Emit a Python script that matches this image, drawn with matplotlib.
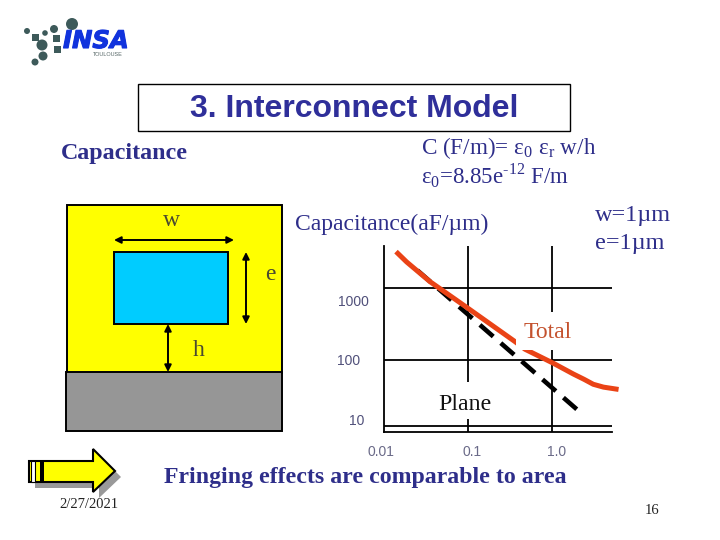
import numpy as np
import matplotlib
matplotlib.use("Agg")
import matplotlib.pyplot as plt
from matplotlib.patches import Rectangle, Polygon, Circle, FancyArrowPatch
import matplotlib.patheffects as pe

plt.rcParams['font.family'] = ['Liberation Serif', 'DejaVu Sans']
plt.rcParams['mathtext.fontset'] = 'custom'
plt.rcParams['mathtext.rm'] = 'Liberation Serif'

# values
total_x = [0.0139, 0.0186, 0.0353, 0.0964, 0.363, 0.478, 1.04, 1.79, 2.4, 3.1, 4.1, 6.2]
total_y = [3200, 2300, 1225, 539, 180, 141, 90, 64, 54, 46, 42, 39]
plane_x = [1.97, 0.0234]
plane_y = [20.7, 1875]
x_grid = [0.1, 1.0]
y_grid = [1000, 100, 12.1]
x_labels = ["0.01", "0.1", "1.0"]
y_labels = ["1000", "100", "10"]

NAVY = "#2e2e8a"
ORANGE = "#ea4316"

fig = plt.figure(figsize=(7.2, 5.4), dpi=100)

# slide background layer, in pixels
bg = fig.add_axes([0, 0, 1, 1], zorder=0)
bg.set_xlim(0, 720)
bg.set_ylim(540, 0)
bg.axis("off")

# top layer for labels over the chart
top = fig.add_axes([0, 0, 1, 1], zorder=2)
top.set_xlim(0, 720)
top.set_ylim(540, 0)
top.axis("off")
top.patch.set_alpha(0)

# chart
ax = fig.add_axes([384/720, (540-432)/540, 228/720, 186/540], zorder=1)
ax.patch.set_alpha(0)
ax.set_xscale("log")
ax.set_yscale("log")
ax.set_xlim(0.01, 10**(-2 + 228/84))
ax.set_ylim(10, 10**(2 + 114/72))
for s in ["top", "right"]:
    ax.spines[s].set_visible(False)
for s in ["left", "bottom"]:
    ax.spines[s].set_linewidth(1.3)
ax.set_xticks([])
ax.set_yticks([])
ax.minorticks_off()
for v in x_grid:
    ax.axvline(v, color="k", lw=1.3)
for v in y_grid:
    ax.axhline(v, color="k", lw=1.3)
ax.plot(plane_x, plane_y, color="k", lw=3.3, dashes=(3.86, 2.18), dash_capstyle="butt")
ax.plot(total_x, total_y, color=ORANGE, lw=3.6, clip_on=False, solid_capstyle="butt")

# white boxes behind the chart labels
top.add_patch(Rectangle((516, 312), 60, 37.5, color="white", lw=0))
top.add_patch(Rectangle((437, 382), 60, 37, color="white", lw=0))
top.text(548, 333, "Total", color="#c4522e", fontsize=17, ha="center", va="center")
top.text(465, 404, "Plane", color="#111111", fontsize=17.2, ha="center", va="center")

for x, lab in zip([381, 472, 557], x_labels):
    top.text(x, 452, lab, color="#6a6a88", fontsize=10, ha="center", va="center",
             family="Liberation Sans")
for y, x, lab in zip([302, 361, 421], [353, 349, 357], y_labels):
    top.text(x, y, lab, color="#50507a", fontsize=10, ha="center", va="center",
             family="Liberation Sans")
top.add_patch(Rectangle((340, 457), 260, 32, color="white", lw=0, zorder=3))
top.text(365, 477, "Fringing effects are comparable to area", color=NAVY, fontsize=17.2,
         ha="center", va="center", zorder=4, fontweight="bold")

# title box
bg.add_patch(Rectangle((138, 84), 432, 47, fc="white", ec="k", lw=1))
bg.text(354, 109, "3. Interconnect Model", color="#2f2f9a", fontsize=23, fontweight="bold",
        ha="center", va="center", family="Liberation Sans")

bg.text(61, 153, "Capacitance", color=NAVY, fontsize=17.3, va="center", fontweight="bold")
bg.text(421, 148, r"C (F/m)= ε$_0$ ε$_\mathrm{r}$ w/h", color=NAVY, fontsize=16.7, va="center")
bg.text(421, 176, r"ε$_0$=8.85e$^{\text{-12}}$ F/m", color=NAVY, fontsize=16.5, va="center")
bg.text(295, 224, "Capacitance(aF/µm)", color=NAVY, fontsize=17, va="center")
bg.text(595, 215, "w=1µm", color=NAVY, fontsize=17.5, va="center")
bg.text(595, 243, "e=1µm", color=NAVY, fontsize=17.5, va="center")

# cross-section sketch
bg.add_patch(Rectangle((67, 205), 215, 168, fc="#ffff00", ec="k", lw=1.4))
bg.add_patch(Rectangle((66, 372), 216, 59, fc="#969696", ec="k", lw=1.4))
bg.add_patch(Rectangle((114, 252), 114, 72, fc="#00ccff", ec="k", lw=1.4))
for a, b in [((114, 240), (234, 240)), ((246, 252), (246, 324)), ((168, 324), (168, 372))]:
    bg.add_patch(FancyArrowPatch(a, b, arrowstyle="<|-|>", mutation_scale=10, color="k", lw=1.4,
                                 shrinkA=0, shrinkB=0))
bg.text(171, 220, "w", color="#4a4a30", fontsize=17, ha="center", va="center")
bg.text(270, 274, "e", color="#4a4a30", fontsize=17, ha="center", va="center")
bg.text(199, 351, "h", color="#4a4a30", fontsize=17, ha="center", va="center")

# nav arrow
arrow = np.array([[29, 461], [93, 461], [93, 449], [115, 471], [93, 492], [93, 482], [29, 482]])
bg.add_patch(Polygon(arrow + [6, 6], fc="#999999", ec="none"))
bg.add_patch(Polygon(arrow, fc="#ffff00", ec="k", lw=1.5))
bg.add_patch(Rectangle((31, 461), 4, 21, fc="white", ec="k", lw=0.8))
bg.add_patch(Rectangle((40, 461), 4, 21, fc="k", ec="k", lw=0))

bg.text(89, 504, "2/27/2021", color="#222222", fontsize=10.5, ha="center", va="center")
bg.text(652, 511, "16", color="#222222", fontsize=10.5, ha="center", va="center")

# logo
dots = [(27, 31, 3), (45, 33, 2.8), (54, 29, 4), (72, 24, 6), (42, 45, 5.5), (43, 56, 4.5), (35, 62, 3.5)]
for x, y, r in dots:
    bg.add_patch(Circle((x, y), r, fc="#3d5a5a", ec="none"))
for x, y in [(35, 37), (56, 38), (57, 49)]:
    bg.add_patch(Rectangle((x - 3.5, y - 3.5), 7, 7, fc="#3d5a5a", ec="none"))
logo = bg.text(63, 41, "INSA", color="#1133dd", fontsize=17.5, fontweight="bold", style="italic",
               family="DejaVu Sans", va="center")
logo.set_path_effects([pe.withStroke(linewidth=0.8, foreground="#1133dd")])
bg.text(108, 54.5, "TOULOUSE", color="#556666", fontsize=4, ha="center", va="center",
        family="Liberation Sans")

fig.savefig("out.png", dpi=100)
